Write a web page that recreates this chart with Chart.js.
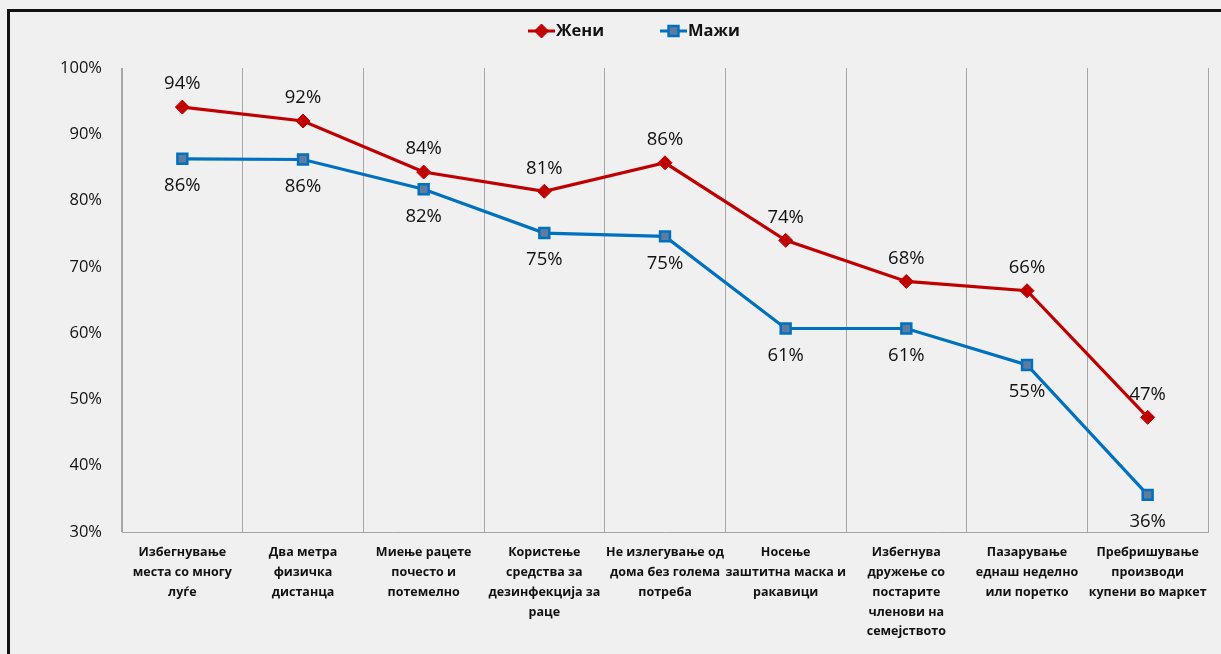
<!DOCTYPE html>
<html>
<head>
<meta charset="utf-8">
<script src="https://cdn.jsdelivr.net/npm/chart.js@4.4.1/dist/chart.umd.min.js"></script>
<style>
  html, body { margin: 0; padding: 0; background: #f0f0f0; overflow: hidden; }
  #frame { position: absolute; left: 7px; top: 9px; width: 1400px; height: 800px;
           border-top: 3px solid #111; border-left: 3px solid #111; }
  #wrap { position: absolute; left: 0; top: 0; width: 1221px; height: 654px; }
</style>
</head>
<body>
<div id="frame"></div>
<div id="wrap"><canvas id="chart" width="1221" height="654"></canvas></div>
<script>
// --- data ---
const categories = [
  ['Избегнување', 'места со многу', 'луѓе'],
  ['Два метра', 'физичка', 'дистанца'],
  ['Миење рацете', 'почесто и', 'потемелно'],
  ['Користење', 'средства за', 'дезинфекција за', 'раце'],
  ['Не излегување од', 'дома без голема', 'потреба'],
  ['Носење', 'заштитна маска и', 'ракавици'],
  ['Избегнува', 'дружење со', 'постарите', 'членови на', 'семејството'],
  ['Пазарување', 'еднаш неделно', 'или поретко'],
  ['Пребришување', 'производи', 'купени во маркет']
];
const women = [94.1, 92.0, 84.3, 81.4, 85.7, 74.0, 67.8, 66.4, 47.3];
const men = [86.3, 86.2, 81.7, 75.1, 74.6, 60.7, 60.7, 55.2, 35.6];
const seriesNames = ['Жени', 'Мажи'];
const yTicks = [30, 40, 50, 60, 70, 80, 90, 100];

const FONT = "'Open Sans', Lato, sans-serif";
const RED = '#c00000';
const BLUE = '#0070c0';

// value labels: women above, men below
const valueLabels = {
  id: 'valueLabels',
  afterDatasetsDraw(chart) {
    const ctx = chart.ctx;
    ctx.save();
    ctx.font = '18.5px ' + FONT;
    ctx.fillStyle = '#111';
    ctx.textAlign = 'center';
    ctx.textBaseline = 'middle';
    chart.data.datasets.forEach((ds, i) => {
      const meta = chart.getDatasetMeta(i);
      meta.data.forEach((pt, j) => {
        const dy = i === 0 ? -23 : 27;
        ctx.fillText(Math.round(ds.data[j]) + '%', pt.x, pt.y + dy);
      });
    });
    ctx.restore();
  }
};

// legend with line + marker, like the original
const lineLegend = {
  id: 'lineLegend',
  afterDraw(chart) {
    const ctx = chart.ctx;
    const items = [
      { x: 528, ds: chart.data.datasets[0] },
      { x: 660, ds: chart.data.datasets[1] }
    ];
    const y = 31;
    ctx.save();
    items.forEach(it => {
      const ds = it.ds;
      ctx.strokeStyle = ds.borderColor;
      ctx.lineWidth = 3;
      ctx.beginPath();
      ctx.moveTo(it.x, y);
      ctx.lineTo(it.x + 27, y);
      ctx.stroke();
      ctx.fillStyle = ds.pointBackgroundColor;
      ctx.strokeStyle = ds.pointBorderColor;
      ctx.lineWidth = ds.pointBorderWidth;
      Chart.helpers.drawPoint(ctx, {
        pointStyle: ds.pointStyle, radius: ds.pointRadius, rotation: 0,
        borderWidth: ds.pointBorderWidth
      }, it.x + 13.5, y);
      ctx.fillStyle = '#111';
      ctx.font = 'bold 16.5px ' + FONT;
      ctx.textAlign = 'left';
      ctx.textBaseline = 'middle';
      ctx.fillText(ds.label, it.x + 28, y);
    });
    ctx.restore();
  }
};

new Chart(document.getElementById('chart'), {
  type: 'line',
  data: {
    labels: categories,
    datasets: [
      {
        label: seriesNames[0], data: women,
        borderColor: RED, borderWidth: 3.2,
        pointStyle: 'rectRot', pointRadius: 7,
        pointBackgroundColor: RED, pointBorderColor: RED, pointBorderWidth: 1,
        tension: 0
      },
      {
        label: seriesNames[1], data: men,
        borderColor: BLUE, borderWidth: 3.2,
        pointStyle: 'rect', pointRadius: 7,
        pointBackgroundColor: '#5f7c9e', pointBorderColor: BLUE, pointBorderWidth: 2.5,
        tension: 0
      }
    ]
  },
  options: {
    responsive: false,
    animation: false,
    layout: { padding: { top: 68, right: 13, bottom: 0, left: 0 } },
    plugins: { legend: { display: false }, tooltip: { enabled: false } },
    scales: {
      x: {
        offset: true,
        grid: { display: true, offset: true, color: '#a6a6a6', lineWidth: 1, drawTicks: false },
        border: { color: '#a6a6a6', width: 1 },
        ticks: {
          autoSkip: false, maxRotation: 0, minRotation: 0, padding: 11,
          color: '#111', font: { family: FONT, size: 12.5, weight: 'bold', lineHeight: 1.58 }
        },
        afterFit(scale) { scale.height = 122; }
      },
      y: {
        min: 30, max: 100,
        afterBuildTicks(scale) { scale.ticks = yTicks.map(v => ({ value: v })); },
        grid: { display: false, drawTicks: false },
        border: { color: '#a6a6a6', width: 1 },
        ticks: {
          padding: 20, color: '#111',
          font: { family: FONT, size: 16.5 },
          callback: v => v + '%'
        },
        afterFit(scale) { scale.width = 122; }
      }
    }
  },
  plugins: [valueLabels, lineLegend]
});
</script>
</body>
</html>
